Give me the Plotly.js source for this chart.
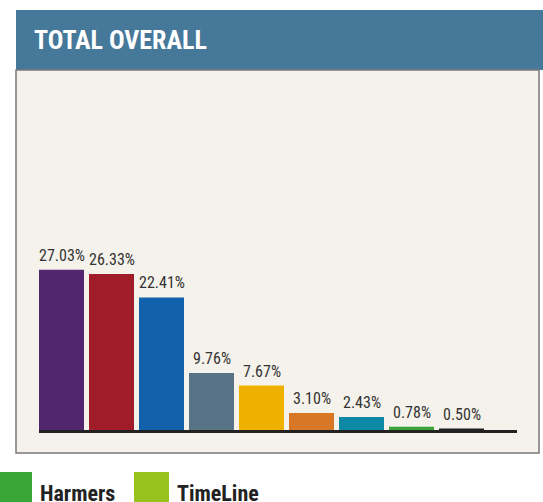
<!DOCTYPE html>
<html>
<head>
<meta charset="utf-8">
<script src="https://cdn.plot.ly/plotly-3.0.1.min.js"></script>
<style>
  html, body { margin: 0; padding: 0; background: #ffffff; }
  #chart { width: 543px; height: 502px; }
</style>
</head>
<body>
<div id="chart"></div>
<script>
// Data
const positions = [0, 1, 2, 3, 4, 5, 6, 7, 8];
const values = [27.03, 26.33, 22.41, 9.76, 7.67, 3.10, 2.43, 0.78, 0.50];
const labels = ["27.03%", "26.33%", "22.41%", "9.76%", "7.67%", "3.10%", "2.43%", "0.78%", "0.50%"];
const barColors = ["#51266e", "#a01c28", "#1262ab", "#587385", "#f0b000", "#d87725", "#0e89a5", "#3aa537", "#222222"];
const legendNames = ["Harmers", "TimeLine"];
const legendColors = ["#3aa537", "#97c11f"];

const W = 543, H = 502;
const px = v => v / W;
const py = v => 1 - v / H;

const condensed = "Roboto Condensed, Liberation Sans Narrow, DejaVu Sans Condensed, Roboto, sans-serif";

const trace = {
  type: "bar",
  x: positions,
  y: values,
  base: 0,
  width: 0.9,
  marker: { color: barColors, line: { width: 0 } },
  hoverinfo: "skip"
};

const shapes = [
  // header band
  { type: "rect", xref: "paper", yref: "paper", x0: px(16), x1: px(543), y0: py(70), y1: py(10),
    fillcolor: "#46789a", line: { width: 0 }, layer: "below" },
  // panel
  { type: "rect", xref: "paper", yref: "paper", x0: px(16), x1: px(539), y0: py(453), y1: py(70),
    fillcolor: "#f5f2ec", line: { color: "#7a7a7a", width: 1.5 }, layer: "below" },
  // baseline drawn over the bar feet
  { type: "line", xref: "x domain", yref: "y", x0: 0, x1: 1, y0: 0, y1: 0,
    line: { color: "#222222", width: 3 }, layer: "above" }
];
const annotations = [
  { xref: "paper", yref: "paper", x: px(32), y: py(40), xanchor: "left", yanchor: "middle",
    text: "<b>TOTAL OVERALL</b>", showarrow: false,
    font: { family: condensed, size: 26, color: "#ffffff" } }
];
// value labels above bars, placed through the axes
positions.forEach((p, i) => {
  annotations.push({ xref: "x", yref: "y", x: p, y: values[i], xanchor: "center", yanchor: "bottom",
    text: labels[i], showarrow: false, yshift: 3,
    font: { family: condensed, size: 16, color: "#333333" } });
});
// legend row (partially cut off at the bottom of the picture)
const legendX = [-3, 134];
legendNames.forEach((name, i) => {
  shapes.push({ type: "rect", xref: "paper", yref: "paper", x0: px(legendX[i]), x1: px(legendX[i] + 35),
    y0: py(507), y1: py(472), fillcolor: legendColors[i], line: { width: 0 } });
  annotations.push({ xref: "paper", yref: "paper", x: px(legendX[i] + 41), y: py(484), xanchor: "left", yanchor: "top",
    text: "<b>" + name + "</b>", showarrow: false, yshift: 5,
    font: { family: condensed, size: 22, color: "#222222" } });
});

const layout = {
  width: W, height: H,
  margin: { l: 0, r: 0, t: 0, b: 0, pad: 0 },
  paper_bgcolor: "#ffffff",
  plot_bgcolor: "rgba(0,0,0,0)",
  showlegend: false,
  bargap: 0.1,
  xaxis: {
    domain: [px(39), px(517)],
    range: [-0.45, 9.11],
    showgrid: false, zeroline: false, showticklabels: false, ticks: "",
    showline: false, fixedrange: true
  },
  yaxis: {
    domain: [1 - 434.5 / H, 1 - 72.5 / H],
    range: [-0.5, 60],
    showgrid: false, zeroline: false, showticklabels: false, ticks: "",
    showline: false, fixedrange: true
  },
  shapes: shapes,
  annotations: annotations
};

Plotly.newPlot("chart", [trace], layout, { displayModeBar: false, staticPlot: true });
</script>
</body>
</html>
